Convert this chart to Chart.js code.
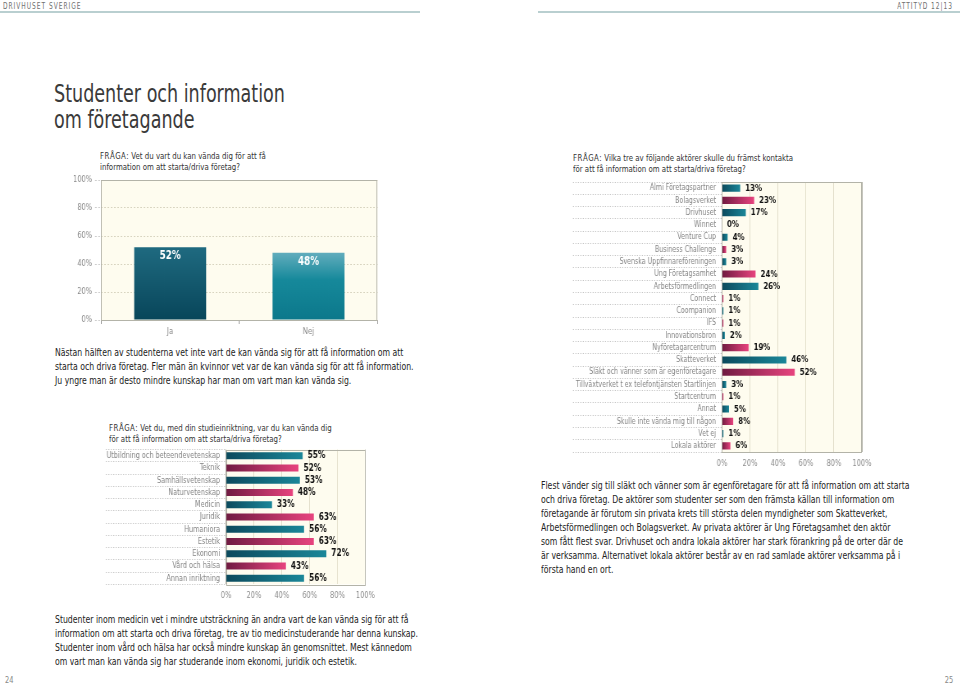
<!DOCTYPE html>
<html lang="sv">
<head>
<meta charset="utf-8">
<title>Studenter och information om företagande</title>
<script src="https://cdn.jsdelivr.net/npm/chart.js@4.4.1/dist/chart.umd.min.js"></script>
<style>
  html, body { margin: 0; padding: 0; background: #fff; }
  body {
    width: 960px; height: 686px; position: relative; overflow: hidden;
    font-family: "Liberation Sans Narrow", "DejaVu Sans Condensed", "Open Sans", sans-serif;
    color: #2b2b2b;
  }
  /* the brochure face is very condensed, so every text block is squeezed */
  .abs { position: absolute; white-space: nowrap; transform: scaleX(0.82); transform-origin: 0 0; }
  .abs.r { transform-origin: 100% 0; }
  .hdr { font-size: 8px; letter-spacing: 1.2px; color: #707070; top: 2px; }
  .rule { position: absolute; top: 11px; height: 2px; background: #b9cfd0; }
  .title { left: 54px; top: 81px; font-size: 25px; line-height: 26px; color: #3a3a3a; transform: scaleX(0.78); }
  .q { font-size: 9.5px; line-height: 11px; color: #333; }
  .q span { letter-spacing: 0.6px; }
  .p { font-size: 10.5px; line-height: 14px; color: #222; }
  .pg { font-size: 9px; color: #888; top: 675px; }
  canvas { position: absolute; transform: scaleX(0.82); transform-origin: 0 0; }
</style>
</head>
<body>

<div class="abs hdr" style="left:3px">DRIVHUSET SVERIGE</div>
<div class="rule" style="left:0;width:420px"></div>
<div class="abs r hdr" style="right:7px">ATTITYD 12|13</div>
<div class="rule" style="left:538px;width:422px"></div>

<div class="abs title">Studenter och information<br>om företagande</div>

<div class="abs q" style="left:100px;top:150px"><span>FRÅGA:</span> Vet du vart du kan vända dig för att få<br>information om att starta/driva företag?</div>

<div class="abs p" style="left:55px;top:345px">Nästan hälften av studenterna vet inte vart de kan vända sig för att få information om att<br>starta och driva företag. Fler män än kvinnor vet var de kan vända sig för att få information.<br>Ju yngre man är desto mindre kunskap har man om vart man kan vända sig.</div>

<div class="abs q" style="left:109px;top:422px"><span>FRÅGA:</span> Vet du, med din studieinriktning, var du kan vända dig<br>för att få information om att starta/driva företag?</div>

<div class="abs p" style="left:55px;top:612px">Studenter inom medicin vet i mindre utsträckning än andra vart de kan vända sig för att få<br>information om att starta och driva företag, tre av tio medicinstuderande har denna kunskap.<br>Studenter inom vård och hälsa har också mindre kunskap än genomsnittet. Mest kännedom<br>om vart man kan vända sig har studerande inom ekonomi, juridik och estetik.</div>

<div class="abs q" style="left:573px;top:152px"><span>FRÅGA:</span> Vilka tre av följande aktörer skulle du främst kontakta<br>för att få information om att starta/driva företag?</div>

<div class="abs p" style="left:541px;top:478px">Flest vänder sig till släkt och vänner som är egenföretagare för att få information om att starta<br>och driva företag. De aktörer som studenter ser som den främsta källan till information om<br>företagande är förutom sin privata krets till största delen myndigheter som Skatteverket,<br>Arbetsförmedlingen och Bolagsverket. Av privata aktörer är Ung Företagsamhet den aktör<br>som fått flest svar. Drivhuset och andra lokala aktörer har stark förankring på de orter där de<br>är verksamma. Alternativet lokala aktörer består av en rad samlade aktörer verksamma på i<br>första hand en ort.</div>

<div class="abs pg" style="left:5px">24</div>
<div class="abs r pg" style="right:7px">25</div>

<canvas id="knowChart" style="left:55px;top:172px"></canvas>
<canvas id="fieldChart" style="left:100px;top:443px"></canvas>
<canvas id="actorChart" style="left:565px;top:176px"></canvas>

<script>
// --- data ---
var knowLabels = ['Ja', 'Nej'];
var knowValues = [52, 48];

var fieldLabels = ['Utbildning och beteendevetenskap', 'Teknik', 'Samhällsvetenskap', 'Naturvetenskap',
    'Medicin', 'Juridik', 'Humaniora', 'Estetik', 'Ekonomi', 'Vård och hälsa', 'Annan inriktning'];
var fieldValues = [55, 52, 53, 48, 33, 63, 56, 63, 72, 43, 56];

var actorLabels = ['Almi Företagspartner', 'Bolagsverket', 'Drivhuset', 'Winnet', 'Venture Cup',
    'Business Challenge', 'Svenska Uppfinnareföreningen', 'Ung Företagsamhet', 'Arbetsförmedlingen',
    'Connect', 'Coompanion', 'IFS', 'Innovationsbron', 'Nyföretagarcentrum', 'Skatteverket',
    'Släkt och vänner som är egenföretagare', 'Tillväxtverket t ex telefontjänsten Startlinjen',
    'Startcentrum', 'Annat', 'Skulle inte vända mig till någon', 'Vet ej', 'Lokala aktörer'];
var actorValues = [13, 23, 17, 0, 4, 3, 3, 24, 26, 1, 1, 1, 2, 19, 46, 52, 3, 1, 5, 8, 1, 6];

var pctMin = 0;
var pctMax = 100;
var pctStep = 20;

// --- styling ---
var FONT = '"Liberation Sans Narrow", "DejaVu Sans Condensed", "Open Sans", sans-serif';
Chart.defaults.font.family = FONT;
Chart.defaults.color = '#8c8c8c';

// canvases are squeezed horizontally by K (see css), so page widths are divided by K
var K = 0.82;
var sx = function (v) { return v / K; };

var CREAM = '#fefcef';
var FRAME = '#b3b3a8';
var TEAL = ['#0c4a5d', '#1b8799'];
var PINK = ['#701b41', '#e8447f'];

var pct = function (v) { return v + '%'; };

var sizeCanvas = function (id, w, h) {
    var c = document.getElementById(id);
    c.width = Math.round(sx(w));
    c.height = h;
    return c;
};

// cream plot background and frame around the chart area
var plotFrame = {
    id: 'plotFrame',
    beforeDraw: function (chart) {
        var a = chart.chartArea, ctx = chart.ctx;
        ctx.save();
        ctx.fillStyle = CREAM;
        ctx.fillRect(a.left, a.top, a.right - a.left, a.bottom - a.top);
        ctx.restore();
    },
    beforeDatasetsDraw: function (chart) {
        var a = chart.chartArea, ctx = chart.ctx;
        ctx.save();
        ctx.strokeStyle = FRAME;
        ctx.lineWidth = 1;
        ctx.strokeRect(Math.round(a.left) + 0.5, Math.round(a.top) + 0.5,
            Math.round(a.right - a.left) - 1, Math.round(a.bottom - a.top));
        ctx.restore();
    }
};

// percentage labels beside / inside the bars
var valueLabels = {
    id: 'valueLabels',
    afterDatasetsDraw: function (chart, args, opts) {
        var ctx = chart.ctx;
        var data = chart.data.datasets[0].data;
        ctx.save();
        ctx.font = opts.font;
        ctx.fillStyle = opts.color;
        ctx.textBaseline = 'middle';
        chart.getDatasetMeta(0).data.forEach(function (bar, i) {
            if (opts.inside) {
                ctx.textAlign = 'center';
                ctx.fillText(pct(data[i]), bar.x, bar.y + opts.offset);
            } else {
                ctx.textAlign = 'left';
                ctx.fillText(pct(data[i]), bar.x + opts.offset, bar.y);
            }
        });
        ctx.restore();
    }
};

// vertical gradient per column
var knowFill = function (c) {
    var chart = c.chart;
    if (!chart.chartArea) return TEAL[0];
    var y = chart.scales.y;
    var top = y.getPixelForValue(c.raw), bottom = y.getPixelForValue(0);
    var g = chart.ctx.createLinearGradient(0, top, 0, bottom);
    if (c.dataIndex === 0) {
        g.addColorStop(0, '#1f6a80');
        g.addColorStop(1, '#08465a');
    } else {
        g.addColorStop(0, '#62adbd');
        g.addColorStop(0.4, '#16899b');
        g.addColorStop(1, '#0c788b');
    }
    return g;
};

// horizontal gradient per bar, alternating teal / pink
var rowFill = function (c) {
    var chart = c.chart;
    var pair = c.dataIndex % 2 === 0 ? TEAL : PINK;
    if (!chart.chartArea) return pair[0];
    var x = chart.scales.x;
    var x0 = x.getPixelForValue(0), x1 = x.getPixelForValue(Math.max(c.raw, 1));
    var g = chart.ctx.createLinearGradient(x0, 0, x1, 0);
    g.addColorStop(0, pair[0]);
    g.addColorStop(1, pair[1]);
    return g;
};

// fixed axis sizes; edge label overhang is covered by the layout padding instead
var fixWidth = function (w) {
    return function (scale) { scale.width = w; scale.paddingTop = 0; scale.paddingBottom = 0; };
};
var fixHeight = function (h) {
    return function (scale) { scale.height = h; scale.paddingLeft = 0; scale.paddingRight = 0; };
};

new Chart(sizeCanvas('knowChart', 330, 170), {
    type: 'bar',
    data: {
        labels: knowLabels,
        datasets: [{ data: knowValues, backgroundColor: knowFill, categoryPercentage: 1, barPercentage: 0.52 }]
    },
    options: {
        responsive: false,
        animation: false,
        layout: { padding: { top: 8, right: sx(7), left: 0, bottom: 0 } },
        plugins: {
            legend: { display: false },
            tooltip: { enabled: false },
            valueLabels: { font: 'bold 12px ' + FONT, color: '#ffffff', inside: true, offset: 9 }
        },
        scales: {
            x: {
                grid: { drawOnChartArea: false, offset: true, tickLength: 4, tickColor: '#999' },
                border: { display: false },
                ticks: { padding: 2, font: { size: 9.5 } },
                afterFit: fixHeight(22)
            },
            y: {
                min: pctMin, max: pctMax,
                ticks: { stepSize: pctStep, callback: pct, padding: sx(3), font: { size: 9 } },
                grid: { color: '#d8d4c0', tickLength: sx(6), tickColor: '#c8c8c8', tickBorderDash: [2, 2] },
                border: { display: false, dash: [2, 2] },
                afterFit: fixWidth(sx(46))
            }
        }
    },
    plugins: [plotFrame, valueLabels]
});

var rowChart = function (canvas, labels, values, labelWidth, sepLength, pad, axisHeight, labelSize, valueSize) {
    return new Chart(canvas, {
        type: 'bar',
        data: {
            labels: labels,
            datasets: [{ data: values, backgroundColor: rowFill, categoryPercentage: 1, barPercentage: 0.58 }]
        },
        options: {
            indexAxis: 'y',
            responsive: false,
            animation: false,
            layout: { padding: pad },
            plugins: {
                legend: { display: false },
                tooltip: { enabled: false },
                valueLabels: { font: 'bold ' + valueSize + 'px ' + FONT, color: '#111111', inside: false, offset: sx(5) }
            },
            scales: {
                x: {
                    min: pctMin, max: pctMax,
                    ticks: { stepSize: pctStep, callback: pct, padding: 6, maxRotation: 0, font: { size: 9 } },
                    grid: {
                        drawTicks: false,
                        color: function (c) {
                            return (c.tick && (c.tick.value === pctMin || c.tick.value === pctMax)) ? FRAME : '#e4e0cc';
                        }
                    },
                    border: { display: false },
                    afterFit: fixHeight(axisHeight)
                },
                y: {
                    grid: {
                        drawOnChartArea: false, offset: true, tickLength: sx(sepLength),
                        tickColor: '#b5b5b5', tickBorderDash: [1, 2]
                    },
                    border: { display: false },
                    ticks: { padding: sx(6 - sepLength), font: { size: labelSize }, color: '#858585', autoSkip: false },
                    afterFit: fixWidth(sx(labelWidth))
                }
            }
        },
        plugins: [plotFrame, valueLabels]
    });
};

rowChart(sizeCanvas('actorChart', 315, 295), actorLabels, actorValues, 157, 149,
    { top: 6, right: sx(18), left: 0, bottom: 0 }, 19, 8.5, 9.5);
rowChart(sizeCanvas('fieldChart', 285, 160), fieldLabels, fieldValues, 126, 120,
    { top: 6.6, right: sx(20), left: 0, bottom: 0 }, 18.6, 8.8, 10);
</script>
</body>
</html>
